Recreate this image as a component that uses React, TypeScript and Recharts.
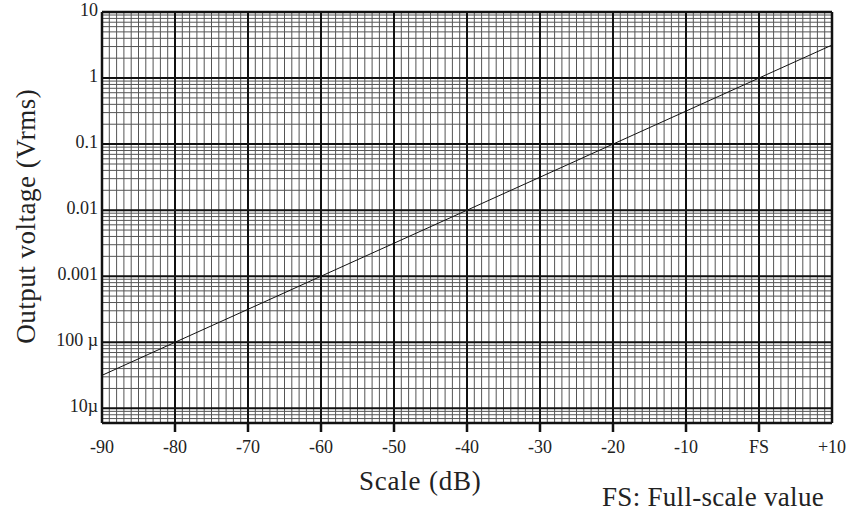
import React from 'react';
import { LineChart, Line, XAxis, YAxis, ReferenceLine } from 'recharts';

// dB scale, one point every 10 dB
const scaleDb = [-90, -80, -70, -60, -50, -40, -30, -20, -10, 0, 10];
// output voltage (Vrms)
const outputVrms = [3.16e-5, 1e-4, 3.16e-4, 1e-3, 3.16e-3, 0.01, 0.0316, 0.1, 0.316, 1, 3.16];

const xTickLabels = ['-90', '-80', '-70', '-60', '-50', '-40', '-30', '-20', '-10', 'FS', '+10'];
const yTicks = [1e-5, 1e-4, 1e-3, 0.01, 0.1, 1, 10];
const yTickLabels = ['10\u00b5', '100 \u00b5', '0.001', '0.01', '0.1', '1', '10'];

const Y_MIN = 6e-6;
const Y_MAX = 10;

const data = scaleDb.map((db, i) => ({ db, v: outputVrms[i] }));

// grid: every 1 dB, and 1..9 within each decade
const minorX: number[] = [];
for (let d = -89; d < 10; d++) if (d % 10 !== 0) minorX.push(d);
const minorY: number[] = [];
[1e-6, 1e-5, 1e-4, 1e-3, 1e-2, 0.1, 1].forEach(dec => {
  for (let k = 2; k <= 9; k++) {
    const val = +(dec * k).toPrecision(3);
    if (val > Y_MIN && val < Y_MAX) minorY.push(val);
  }
});

const font = '"Liberation Serif", "DejaVu Serif", serif';

const XTick = (props: any) => {
  const { x, y, payload, index } = props;
  const edge = payload.value === -90 || payload.value === 10;
  return (
    <g>
      {!edge && <line x1={x} x2={x} y1={y} y2={y + 9} stroke="#111" strokeWidth={2.5} />}
      <text x={x} y={y + 30} textAnchor="middle" fontSize={18} fontFamily={font} fill="#222">
        {xTickLabels[index] ?? payload.value}
      </text>
    </g>
  );
};

const YTick = (props: any) => {
  const { x, y, payload } = props;
  const i = yTicks.indexOf(payload.value);
  return (
    <text x={x - 4} y={y} dy="0.22em" textAnchor="end" fontSize={18} fontFamily={font} fill="#222">
      {yTickLabels[i]}
    </text>
  );
};

export default function App() {
  return (
    <div style={{ position: 'absolute', left: 0, top: 0, width: 848, height: 512, background: '#fff' }}>
      <LineChart width={848} height={512} data={data} margin={{ top: 12, right: 16, left: 0, bottom: 49 }}>
        <XAxis
          dataKey="db"
          type="number"
          domain={[-90, 10]}
          ticks={scaleDb}
          tick={<XTick />}
          tickLine={false}
          axisLine={false}
          tickSize={0}
          tickMargin={0}
          height={40}
          interval={0}
          label={({ viewBox }: any) => (
            <text
              x={viewBox.x + viewBox.width * 0.436}
              y={viewBox.y + 67}
              textAnchor="middle"
              fontSize={27}
              letterSpacing={0.8}
              fontFamily={font}
              fill="#222"
            >
              Scale (dB)
            </text>
          )}
        />
        <YAxis
          type="number"
          scale="log"
          domain={[Y_MIN, Y_MAX]}
          allowDataOverflow
          ticks={yTicks}
          tick={<YTick />}
          tickLine={false}
          axisLine={false}
          tickSize={0}
          tickMargin={0}
          width={102}
          interval={0}
          label={({ viewBox }: any) => (
            <text
              x={26}
              y={viewBox.y + viewBox.height * 0.497}
              transform={`rotate(-90, 26, ${viewBox.y + viewBox.height * 0.497})`}
              textAnchor="middle"
              dominantBaseline="central"
              fontSize={27}
              letterSpacing={0.5}
              fontFamily={font}
              fill="#222"
            >
              Output voltage (Vrms)
            </text>
          )}
        />
        {minorX.map(d => (
          <ReferenceLine key={'mx' + d} x={d} stroke="#555" strokeWidth={1} />
        ))}
        {minorY.map(v => (
          <ReferenceLine key={'my' + v} y={v} stroke="#555" strokeWidth={1} />
        ))}
        {scaleDb.map(d => (
          <ReferenceLine key={'MX' + d} x={d} stroke="#111" strokeWidth={2} />
        ))}
        {yTicks.map(v => (
          <ReferenceLine key={'MY' + v} y={v} stroke="#111" strokeWidth={2} />
        ))}
        <ReferenceLine x={-90} stroke="#111" strokeWidth={2.5} />
        <ReferenceLine x={10} stroke="#111" strokeWidth={2.5} />
        <ReferenceLine y={Y_MAX} stroke="#111" strokeWidth={2.5} />
        <ReferenceLine y={Y_MIN} stroke="#111" strokeWidth={2.5} />
        <Line dataKey="v" stroke="#111" strokeWidth={1} dot={false} isAnimationActive={false} />
      </LineChart>
      <div
        style={{
          position: 'absolute',
          left: 602,
          top: 482,
          fontFamily: font,
          fontSize: 27,
          letterSpacing: 0.3,
          lineHeight: '30px',
          color: '#222',
          whiteSpace: 'nowrap',
        }}
      >
        FS: Full-scale value
      </div>
    </div>
  );
}
